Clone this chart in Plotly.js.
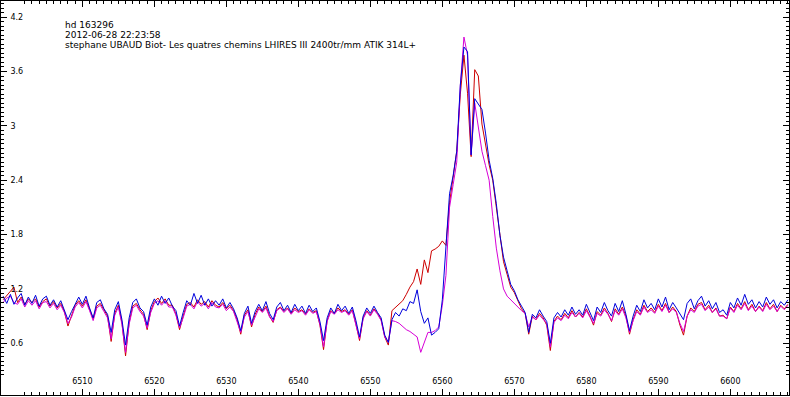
<!DOCTYPE html>
<html>
<head>
<meta charset="utf-8">
<script src="https://cdn.plot.ly/plotly-3.0.1.min.js"></script>
<style>html,body{margin:0;padding:0;background:#fff;}#chart{width:790px;height:397px;}</style>
</head>
<body>
<div id="chart"></div>
<script>
// Wavelength grid (Angstrom): start and step of the sampled spectra
const wlStart = 6499.0;
const wlStep = 0.5;

// Red spectrum (relative flux), one row per 10 Angstrom
const redFlux = [
  1.08, 1.13, 1.18, 1.22, 1.05, 1.11, 1.03, 1.09, 1.05, 1.09, 1.00, 1.06, 1.09, 1.01, 1.06, 0.99, 1.04, 0.95, 0.79, 0.91,
  1.02, 1.07, 1.01, 1.08, 0.98, 0.87, 1.01, 1.04, 0.97, 0.90, 0.62, 0.93, 1.02, 0.83, 0.46, 0.83, 1.01, 1.04, 0.97, 0.92,
  0.75, 0.96, 1.06, 1.10, 1.04, 1.09, 1.02, 1.02, 0.92, 0.75, 0.90, 1.03, 1.05, 1.00, 1.08, 1.03, 1.06, 1.00, 1.07, 1.02,
  1.00, 1.05, 0.98, 1.02, 0.96, 0.86, 0.70, 0.91, 0.97, 0.78, 0.92, 1.00, 0.95, 1.01, 0.90, 0.83, 0.97, 1.00, 0.95, 0.99,
  0.93, 0.99, 0.95, 0.97, 0.92, 0.98, 0.94, 0.96, 0.80, 0.53, 0.85, 0.96, 0.93, 0.99, 0.95, 0.97, 0.92, 0.97, 0.81, 0.63,
  0.88, 0.96, 0.91, 0.98, 0.93, 0.86, 0.67, 0.58, 0.96, 1.00, 1.04, 1.07, 1.14, 1.22, 1.28, 1.42, 1.25, 1.52, 1.38, 1.62,
  1.64, 1.67, 1.73, 1.68, 2.15, 2.42, 2.72, 3.35, 3.78, 3.36, 2.66, 3.62, 3.55, 3.02, 2.80, 2.57, 2.40, 2.12, 1.80, 1.50,
  1.36, 1.22, 1.16, 1.06, 0.98, 0.93, 0.70, 0.90, 0.86, 0.93, 0.88, 0.80, 0.52, 0.84, 0.90, 0.86, 0.93, 0.88, 0.96, 0.89,
  0.94, 0.89, 0.98, 0.90, 0.80, 0.95, 0.91, 0.99, 0.93, 0.84, 0.98, 0.92, 1.00, 0.90, 0.70, 0.86, 0.97, 0.92, 1.02, 0.95,
  0.99, 0.94, 1.03, 0.96, 1.04, 0.94, 1.00, 0.95, 0.80, 0.69, 0.90, 0.99, 0.95, 1.03, 1.05, 0.97, 1.02, 0.94, 0.99, 0.90,
  0.91, 0.87, 1.00, 0.95, 1.04, 0.98, 1.06, 0.97, 1.03, 0.95, 1.01, 0.96, 1.05, 0.98, 1.03, 0.95, 1.02, 0.98, 1.03
];

// Magenta spectrum (relative flux)
const magentaFlux = [
  1.05, 1.10, 1.12, 1.05, 1.03, 1.09, 1.00, 1.07, 1.02, 1.07, 0.98, 1.05, 1.06, 0.99, 1.04, 0.97, 1.02, 0.94, 0.82, 0.89,
  1.00, 1.05, 0.99, 1.06, 0.96, 0.85, 0.99, 1.02, 0.95, 0.88, 0.65, 0.91, 1.00, 0.81, 0.50, 0.81, 0.99, 1.02, 0.95, 0.90,
  0.77, 0.94, 1.04, 1.07, 1.02, 1.07, 1.00, 1.00, 0.91, 0.77, 0.88, 1.01, 1.03, 0.98, 1.06, 1.01, 1.04, 0.98, 1.05, 1.00,
  0.99, 1.03, 0.96, 1.00, 0.95, 0.84, 0.72, 0.89, 0.95, 0.80, 0.90, 0.98, 0.94, 0.99, 0.89, 0.84, 0.96, 0.99, 0.94, 0.98,
  0.92, 0.97, 0.94, 0.96, 0.91, 0.97, 0.93, 0.95, 0.81, 0.56, 0.84, 0.95, 0.92, 0.97, 0.94, 0.96, 0.91, 0.96, 0.80, 0.65,
  0.87, 0.95, 0.90, 0.97, 0.92, 0.85, 0.67, 0.61, 0.85, 0.84, 0.82, 0.78, 0.75, 0.73, 0.70, 0.67, 0.50, 0.62, 0.72, 0.72,
  0.74, 0.78, 1.02, 1.35, 2.10, 2.35, 2.60, 3.45, 3.98, 3.78, 2.68, 3.25, 2.98, 2.72, 2.56, 2.40, 2.00, 1.65, 1.40, 1.20,
  1.12, 1.08, 1.03, 1.00, 0.96, 0.93, 0.78, 0.89, 0.86, 0.91, 0.87, 0.82, 0.56, 0.83, 0.88, 0.85, 0.91, 0.87, 0.94, 0.89,
  0.93, 0.88, 0.96, 0.89, 0.82, 0.93, 0.90, 0.97, 0.92, 0.85, 0.96, 0.91, 0.98, 0.88, 0.72, 0.85, 0.95, 0.91, 1.00, 0.94,
  0.97, 0.93, 1.01, 0.95, 1.02, 0.94, 0.98, 0.94, 0.82, 0.73, 0.90, 0.97, 0.94, 1.01, 1.03, 0.96, 1.00, 0.94, 0.98, 0.90,
  0.90, 0.87, 0.99, 0.94, 1.02, 0.97, 1.04, 0.96, 1.01, 0.95, 1.00, 0.95, 1.03, 0.97, 1.01, 0.95, 1.01, 0.97, 1.02
];

// Blue spectrum (relative flux)
const blueFlux = [
  1.12, 1.04, 1.14, 1.03, 1.10, 1.15, 1.02, 1.11, 1.04, 1.13, 1.01, 1.09, 1.12, 1.02, 1.08, 1.00, 1.07, 0.96, 0.86, 0.95,
  1.04, 1.11, 1.03, 1.12, 0.99, 0.88, 1.05, 1.08, 0.98, 0.92, 0.72, 0.97, 1.06, 0.86, 0.58, 0.88, 1.05, 1.09, 0.99, 0.95,
  0.80, 1.00, 1.09, 1.02, 1.12, 1.04, 1.10, 1.01, 0.96, 0.79, 0.94, 1.07, 1.02, 1.15, 1.04, 1.13, 1.02, 1.09, 1.01, 1.07,
  1.02, 1.09, 0.99, 1.05, 0.98, 0.88, 0.74, 0.93, 1.01, 0.82, 0.95, 1.03, 0.96, 1.06, 0.93, 0.86, 1.00, 1.05, 0.96, 1.02,
  0.94, 1.03, 0.96, 1.01, 0.93, 1.02, 0.95, 0.99, 0.84, 0.63, 0.88, 0.99, 0.93, 1.03, 0.96, 1.01, 0.93, 1.00, 0.85, 0.67,
  0.90, 0.99, 0.93, 1.01, 0.94, 0.88, 0.69, 0.61, 0.86, 0.94, 0.90, 0.98, 0.96, 1.06, 1.04, 1.19, 0.95, 0.82, 0.88, 0.69,
  0.72, 0.76, 1.08, 1.70, 2.25, 2.45, 2.72, 3.45, 3.87, 3.82, 2.68, 3.30, 3.24, 3.18, 2.92, 2.62, 2.42, 2.14, 1.79, 1.55,
  1.40, 1.25, 1.18, 1.08, 1.01, 0.94, 0.72, 0.92, 0.88, 0.97, 0.90, 0.84, 0.60, 0.88, 0.94, 0.89, 0.97, 0.91, 1.00, 0.92,
  0.97, 0.91, 1.03, 0.94, 0.85, 1.00, 0.94, 1.05, 0.96, 0.90, 1.04, 0.95, 1.07, 0.92, 0.74, 0.90, 1.02, 0.95, 1.08, 0.99,
  1.04, 0.97, 1.09, 1.00, 1.11, 0.97, 1.05, 0.99, 0.92, 0.86, 1.04, 1.09, 0.98, 1.07, 1.12, 1.01, 1.07, 0.98, 1.05, 0.94,
  0.97, 0.91, 1.05, 0.99, 1.10, 1.02, 1.14, 1.03, 1.08, 0.99, 1.06, 1.00, 1.11, 1.03, 1.08, 0.99, 1.06, 1.02, 1.08
];

// Tick labels
const xTickVals = [6510, 6520, 6530, 6540, 6550, 6560, 6570, 6580, 6590, 6600];
const yTickVals = [0.6, 1.2, 1.8, 2.4, 3, 3.6, 4.2];
const yTickText = ["0.6", "1.2", "1.8", "2.4", "3", "3.6", "4.2"];

// Header text lines
const headerLines = [
  "hd 163296",
  "2012-06-28 22:23:58",
  "stephane UBAUD Biot- Les quatres chemins LHIRES III 2400tr/mm ATIK 314L+"
];

const wavelength = redFlux.map((_, i) => wlStart + i * wlStep);

const font = {family: "DejaVu Sans, Verdana, sans-serif", size: 8, color: "#000"};
const headFont = {family: "DejaVu Sans, Verdana, sans-serif", size: 9, color: "#000"};

const traces = [
  {x: wavelength, y: redFlux, type: "scatter", mode: "lines", line: {color: "rgb(205,0,0)", width: 1}, hoverinfo: "skip"},
  {x: wavelength, y: magentaFlux, type: "scatter", mode: "lines", line: {color: "rgb(215,0,215)", width: 1}, hoverinfo: "skip"},
  {x: wavelength, y: blueFlux, type: "scatter", mode: "lines", line: {color: "rgb(0,0,220)", width: 1}, hoverinfo: "skip"}
];

const headerY = [0.939, 0.914, 0.889];
const annotations = headerLines.map((t, i) => ({
  text: t, xref: "paper", yref: "paper", x: 0.0787, y: headerY[i],
  xanchor: "left", yanchor: "middle", showarrow: false, font: headFont
}));

const layout = {
  width: 790, height: 397,
  margin: {l: 1, r: 1, t: 1, b: 2, pad: 0},
  paper_bgcolor: "#fff", plot_bgcolor: "#fff",
  showlegend: false,
  font: font,
  xaxis: {
    range: [6498.7, 6608.15],
    tickmode: "array", tickvals: xTickVals,
    ticks: "inside", ticklen: 6, tickcolor: "#000", tickwidth: 1,
    ticklabelposition: "inside", ticklabelstandoff: 2,
    showline: true, linecolor: "#000", linewidth: 1, mirror: "ticks",
    showgrid: false, zeroline: false,
    minor: {dtick: 1, tick0: 0, ticks: "inside", ticklen: 3, tickcolor: "#000", showgrid: false},
    tickfont: font
  },
  yaxis: {
    range: [0.029, 4.378],
    tickmode: "array", tickvals: yTickVals, ticktext: yTickText,
    ticks: "inside", ticklen: 6, tickcolor: "#000", tickwidth: 1,
    ticklabelposition: "inside", ticklabelstandoff: 2,
    showline: true, linecolor: "#000", linewidth: 1, mirror: "ticks",
    showgrid: false, zeroline: false,
    minor: {dtick: 0.05, tick0: 0, ticks: "inside", ticklen: 3, tickcolor: "#000", showgrid: false},
    tickfont: font
  },
  annotations: annotations
};

Plotly.newPlot("chart", traces, layout, {displayModeBar: false, staticPlot: true});
</script>
</body>
</html>
